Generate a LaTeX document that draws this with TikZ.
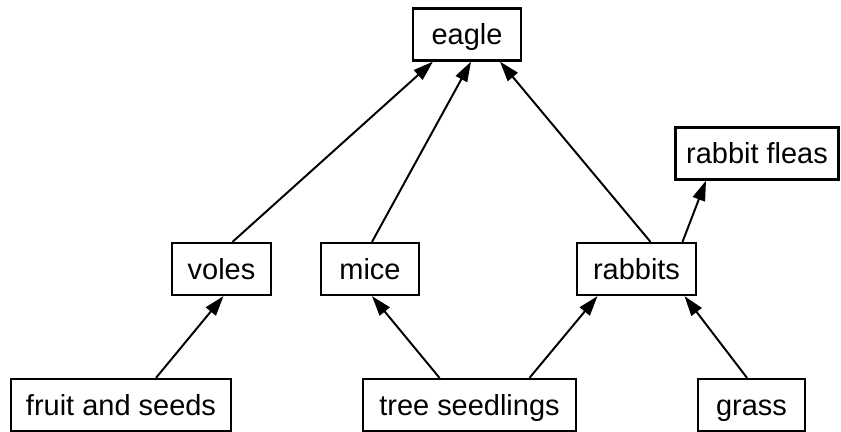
\documentclass[tikz,border=0pt]{standalone}
\usepackage{fontspec}
\setmainfont{Liberation Sans}
\usepackage{tikz}
\usetikzlibrary{arrows.meta,calc}
\tikzset{
    animal/.style={draw, line width=1.6pt, minimum height=1.3cm, inner sep=0pt,
        text height=0.52cm, text depth=0pt,
        font=\fontsize{20.6}{24}\selectfont},
    feeds/.style={line width=1.4pt, -{Triangle[length=0.5cm,width=0.32cm]}}
}

\begin{document}
\begin{tikzpicture}[x=0.025cm, y=-0.025cm]
    \useasboundingbox (0,0) rectangle (841,432);

    % Top of the chain
    \node[animal, minimum width=2.7cm] (eagle) at (467,34.5) {eagle};
    \node[animal, minimum width=4.075cm] (fleas) at (757,153.5) {rabbit fleas};

    % Consumers
    \node[animal, minimum width=2.475cm] (voles) at (221.5,269) {voles};
    \node[animal, minimum width=2.45cm] (mice) at (370,269) {mice};
    \node[animal, minimum width=2.975cm] (rabbits) at (636.5,269) {rabbits};

    % Producers
    \node[animal, minimum width=5.5cm] (fruit) at (121,405) {fruit and seeds};
    \node[animal, minimum width=5.325cm] (seedlings) at (469.5,405) {tree seedlings};
    \node[animal, minimum width=2.675cm] (grass) at (751.5,405) {grass};

    % Arrows: food goes to the eater
    \draw[feeds] ($(fruit.north)+(35,0)$) -- ($(voles.south)+(2,0)$);
    \draw[feeds] ($(seedlings.north)+(-30,0)$) -- ($(mice.south)+(2,0)$);
    \draw[feeds] ($(seedlings.north)+(60,0)$) -- ($(rabbits.south)+(-39,0)$);
    \draw[feeds] ($(grass.north)+(-4.5,0)$) -- ($(rabbits.south)+(48,0)$);

    \draw[feeds] ($(voles.north)+(11,0)$) -- ($(eagle.south)+(-34,0)$);
    \draw[feeds] ($(mice.north)+(2,0)$) -- ($(eagle.south)+(4,0)$);
    \draw[feeds] ($(rabbits.north)+(14,0)$) -- ($(eagle.south)+(33,0)$);
    \draw[feeds] ($(rabbits.north)+(46,0)$) -- ($(fleas.south)+(-51,0)$);
\end{tikzpicture}
\end{document}
